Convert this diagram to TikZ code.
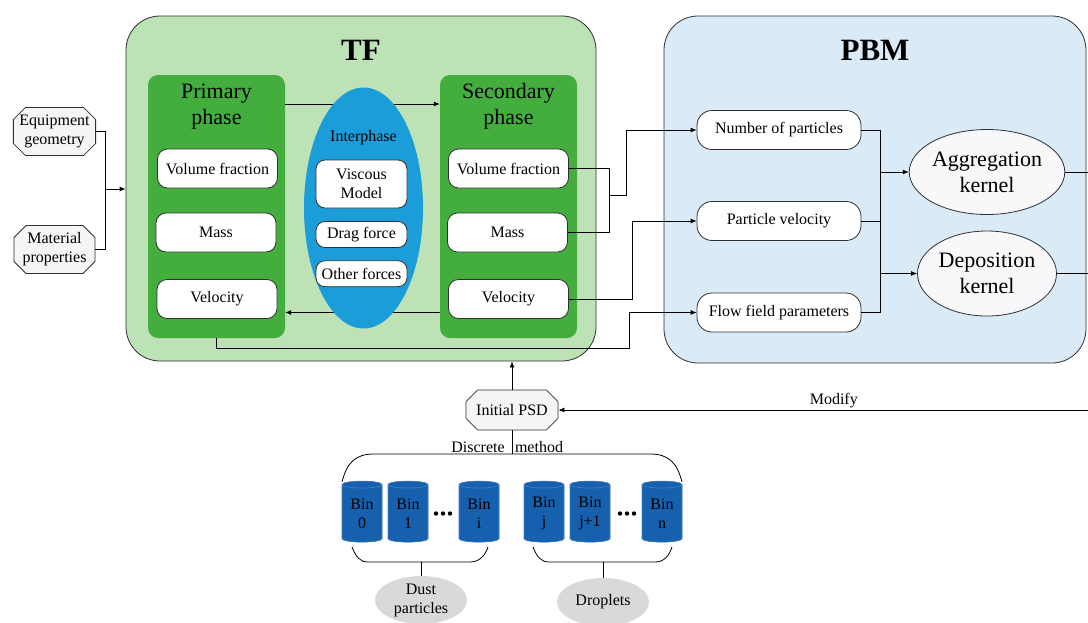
\documentclass[tikz,border=0pt]{standalone}
\usepackage{fontspec}
\setmainfont{Liberation Serif}
\usetikzlibrary{shapes.geometric,shapes.misc,arrows.meta}

\definecolor{tfbg}{HTML}{BDE2B5}
\definecolor{phasegreen}{HTML}{43AE3D}
\definecolor{interblue}{HTML}{1B9DDA}
\definecolor{pbmbg}{HTML}{DAEAF6}
\definecolor{binblue}{HTML}{1660AE}
\definecolor{softgrey}{HTML}{D9D9D9}
\definecolor{edge}{HTML}{303030}
\definecolor{kernelfill}{HTML}{F8F8FB}
\definecolor{octofill}{HTML}{F5F5F5}

\begin{document}
\begin{tikzpicture}[x=1pt,y=-1pt,
  every node/.style={font=\fontsize{16}{19}\selectfont, align=center, inner sep=0pt},
  panel/.style={draw=edge, line width=0.8pt, rounded corners=34pt},
  phasebox/.style={fill=phasegreen, rounded corners=10pt, minimum width=137pt, minimum height=263pt},
  heading/.style={font=\fontsize{22}{26}\selectfont},
  title/.style={font=\fontsize{31}{34}\selectfont\bfseries},
  item/.style={draw=edge, fill=white, line width=0.8pt, rounded corners=10pt, minimum width=120pt, minimum height=39pt},
  smallitem/.style={draw=edge, fill=white, line width=0.8pt, rounded corners=9pt, minimum width=91pt},
  pill/.style={draw=edge, fill=white, line width=0.8pt, rounded corners=15pt, minimum width=164pt, minimum height=39pt},
  kernel/.style={ellipse, draw=edge, fill=kernelfill, line width=0.8pt, minimum width=139pt, minimum height=85pt, font=\fontsize{22}{26}\selectfont},
  octo/.style={chamfered rectangle, chamfered rectangle xsep=6pt, chamfered rectangle ysep=6pt, draw=edge, fill=octofill, line width=0.8pt},
  bin/.style={cylinder, shape border rotate=90, aspect=0.3, minimum width=40pt, minimum height=61pt, draw=binblue!80!white, fill=binblue, cylinder uses custom fill, cylinder body fill=binblue, cylinder end fill=binblue, line width=0.6pt},
  group/.style={ellipse, fill=softgrey, minimum width=92pt, minimum height=48pt},
  link/.style={line width=0.8pt},
  arr/.style={link, -{Latex[length=6pt,width=5pt]}},
]
\useasboundingbox (0,0) rectangle (1088,622);

% ---------- two main panels ----------
\node[panel, fill=tfbg, minimum width=470pt, minimum height=345pt] (tf) at (361,188.5) {};
\node[panel, fill=pbmbg, minimum width=422pt, minimum height=347pt] (pbm) at (875,189.5) {};
\node[title] (tftitle) at (361,50) {TF};
\node[title] (pbmtitle) at (875,50) {PBM};

% ---------- phases ----------
\node[phasebox] (prim) at (216.5,206.5) {};
\node[phasebox] (sec) at (508.5,206.5) {};
\node[heading] (primlbl) at (216.5,106.5) {Primary\\phase};
\node[heading] (seclbl) at (508.5,106.5) {Secondary\\phase};

% exchange between the phases (passes behind the interphase ellipse)
\coordinate (ptop) at (prim.east |- 0,104);
\coordinate (stop) at (sec.west |- 0,104);
\coordinate (pbot) at (prim.east |- 0,312.5);
\coordinate (sbot) at (sec.west |- 0,312.5);
\draw[arr] (ptop) -- (stop);
\draw[arr] (sbot) -- (pbot);

\node[ellipse, fill=interblue, minimum width=119pt, minimum height=241pt] (inter) at (363.5,208) {};
\node (interlbl) at (363.5,137.5) {Interphase};
\node[smallitem, minimum height=48pt] (visc) at (361.5,184) {Viscous\\Model};
\node[smallitem, minimum height=26pt] (drag) at (361.5,234.5) {Drag force};
\node[smallitem, minimum height=26pt] (other) at (361.5,273.7) {Other forces};

\node[item] (pvf) at (217.5,168.5) {Volume fraction};
\node[item] (pmass) at (216,232.5) {Mass};
\node[item] (pvel) at (217,299) {Velocity};
\node[item] (svf) at (508.5,168.5) {Volume fraction};
\node[item] (smass) at (507.5,232.5) {Mass};
\node[item] (svel) at (508.5,299) {Velocity};

% ---------- inputs on the left ----------
\node[octo, minimum width=81pt, minimum height=48pt] (equip) at (54.5,131.5) {Equipment\\geometry};
\node[octo, minimum width=81pt, minimum height=48pt] (mater) at (54.5,249.5) {Material\\properties};
\coordinate (jin) at (105,189);
\draw[link] (equip.east) -| (jin);
\draw[link] (mater.east) -| (jin);
\draw[arr] (jin) -- (tf.west |- jin);

% ---------- PBM inputs ----------
\node[pill] (nop) at (779,130) {Number of particles};
\node[pill] (pvl) at (779,221) {Particle velocity};
\node[pill] (ffp) at (779,312.5) {Flow field parameters};

\coordinate (j1) at (609,195);
\coordinate (j1b) at (626,195);
\draw[link] (svf.east) -| (j1);
\draw[link] (smass.east) -| (j1);
\draw[arr] (j1) -- (j1b) |- (nop.west);

\coordinate (c2) at (632,299);
\draw[arr] (svel.east) -- (c2) |- (pvl.west);

\coordinate (c3) at (216.5,348);
\coordinate (c4) at (629,348);
\draw[arr] (prim.south) -- (c3) -- (c4) |- (ffp.west);

% ---------- kernels ----------
\node[kernel] (agg) at (987,172) {Aggregation\\kernel};
\node[kernel] (dep) at (987,273.5) {Deposition\\kernel};
\coordinate (bus1) at (880,130);
\coordinate (bus2) at (880,312.5);
\draw[link] (nop.east) -- (bus1);
\draw[link] (pvl.east) -- (pvl.east -| bus1);
\draw[link] (ffp.east) -- (bus2);
\draw[link] (bus1) -- (bus2);
\draw[arr] (bus1 |- agg.west) -- (agg.west);
\draw[arr] (bus1 |- dep.west) -- (dep.west);
\coordinate (aggout) at (1088,172);
\coordinate (depout) at (1088,273.5);
\draw[link] (agg.east) -- (aggout);
\draw[link] (dep.east) -- (depout);

% ---------- initial PSD ----------
\node[octo, minimum width=92pt, minimum height=40pt] (psd) at (512,410) {Initial PSD};
\draw[arr] (psd.north) -- (psd.north |- tf.south);
\coordinate (modin) at (1088,410);
\draw[arr] (modin) -- node[pos=0.48, above=2pt] (modlbl) {Modify} (psd.east);

\coordinate (disc) at (512,454);
\draw[link] (psd.south) -- (disc);
\node (disclbl) at (478,447) {Discrete};
\node (methlbl) at (539,447) {method};
\draw[link] (342,482) .. controls (347,462) and (356,454) .. (374,454) -- (650,454)
  .. controls (668,454) and (677,462) .. (682,482);

% ---------- bins ----------
\node[bin] (b0) at (362,513.5) {Bin\\0};
\node[bin] (b1) at (408,513.5) {Bin\\1};
\node[bin] (bi) at (479,513.5) {Bin\\i};
\node[bin] (bj) at (544,513.5) {Bin\\j};
\node[bin] (bj1) at (590,513.5) {Bin\\j+1};
\node[bin] (bn) at (662,513.5) {Bin\\n};
\foreach \dx in {-7,0,7} {
  \fill (443+\dx,513.5) circle (2.2pt);
  \fill (627+\dx,513.5) circle (2.2pt);
}

% ---------- groups ----------
\node[group] (dust) at (421,600) {Dust\\particles};
\node[group] (drop) at (603,602) {Droplets};
\draw[link] (352,547) .. controls (356,557) and (360,562) .. (368,562) -- (470,562)
  .. controls (479,562) and (485,556) .. (488,547);
\draw[link] (533,547) .. controls (537,557) and (541,562) .. (549,562) -- (655,562)
  .. controls (664,562) and (669,556) .. (672,547);
\draw[link] (dust.north |- 0,562) -- (dust.north);
\draw[link] (drop.north |- 0,562) -- (drop.north);
\end{tikzpicture}
\end{document}
